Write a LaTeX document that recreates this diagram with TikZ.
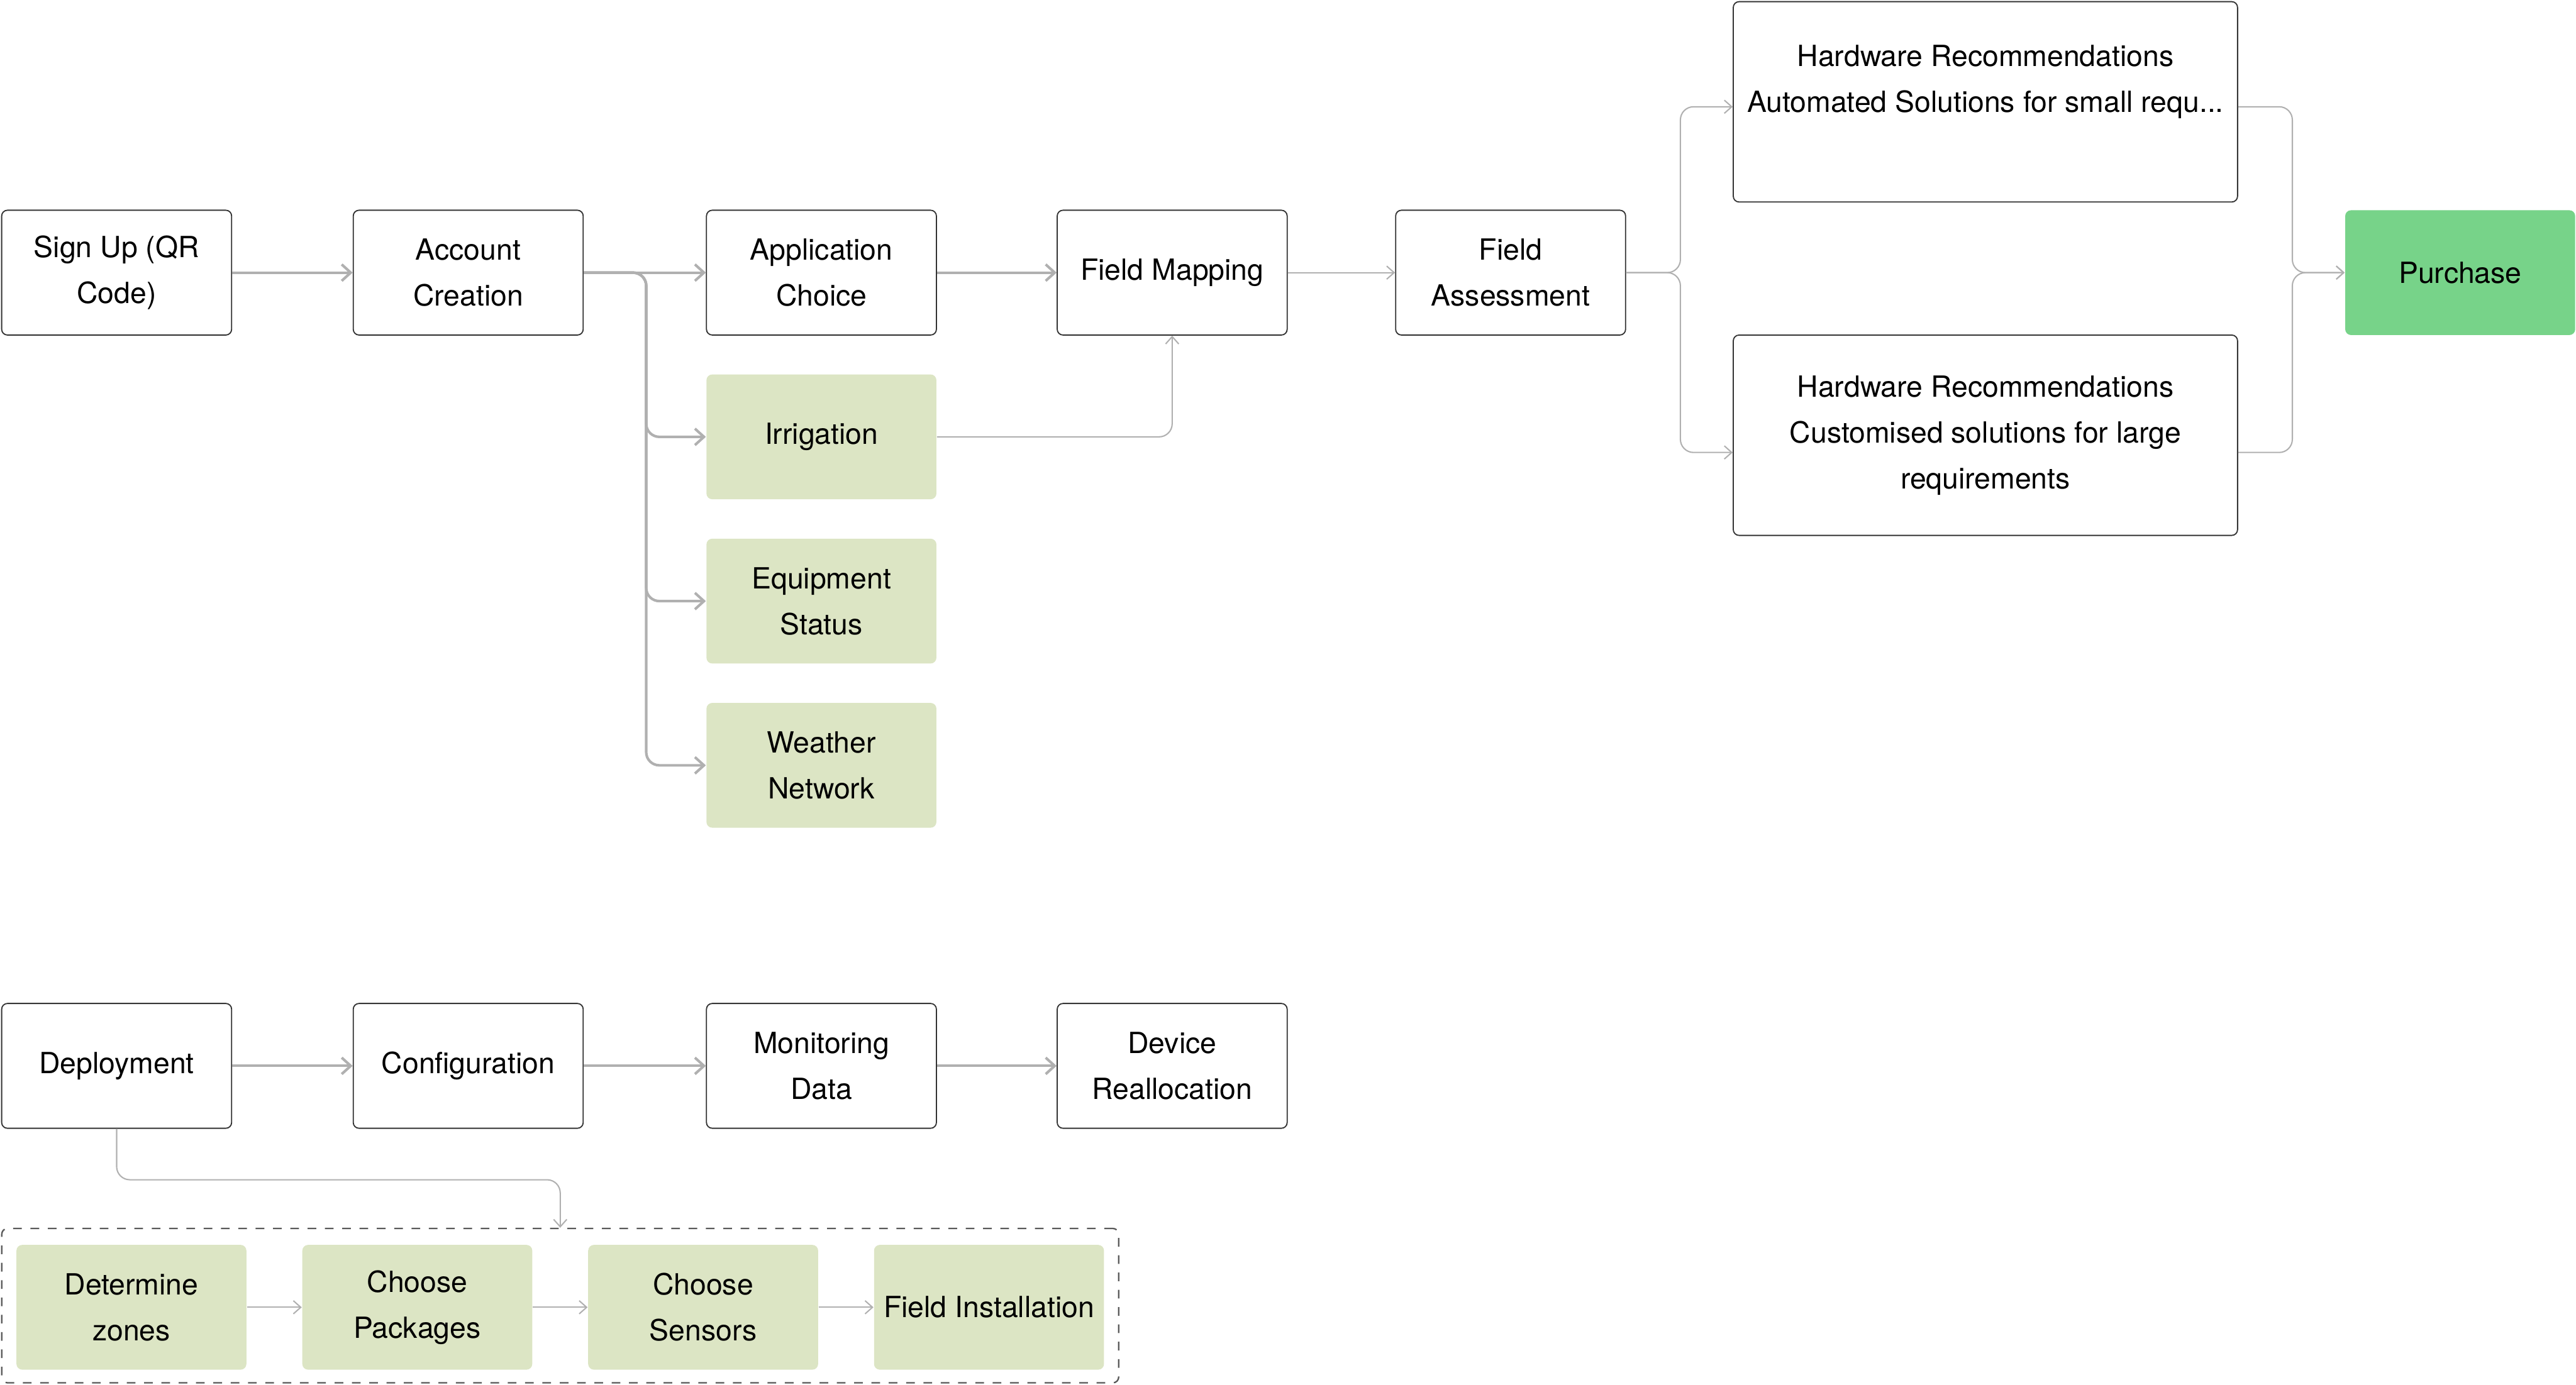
\documentclass[tikz,border=0pt]{standalone}
\usepackage{fontspec}
\setmainfont{TeX Gyre Heros}
\usetikzlibrary{arrows.meta}
\definecolor{leaf}{HTML}{DCE5C4}
\definecolor{buygreen}{HTML}{77D389}
\definecolor{wire}{HTML}{B0B0B0}

\begin{document}
\begin{tikzpicture}[x=0.02cm, y=-0.02cm, font=\fontsize{10.1pt}{15.9pt}\selectfont,
  box/.style={draw=black!80, line width=0.4pt, rounded corners=2pt, minimum width=2.8cm, minimum height=1.52cm, align=center, inner sep=2pt},
  wide/.style={box, minimum width=6.14cm, minimum height=2.44cm},
  leafbox/.style={box, draw=none, fill=leaf},
  buy/.style={box, draw=none, fill=buygreen},
  n/.style={-{Straight Barb[length=0.11cm, width=0.2cm]}, draw=wire, line width=0.9pt, rounded corners=0.16cm},
  t/.style={-{Straight Barb[length=0.09cm, width=0.16cm]}, draw=wire, line width=0.45pt, rounded corners=0.16cm}]
                \useasboundingbox (0,0) rectangle (1568,843);
                % nodes
                \node[box]      (signup) at (71,166) {Sign Up (QR\\Code)};
                \node[box]      (account) at (285,166) {Account\\Creation};
                \node[box]      (appchoice) at (500,166) {Application\\Choice};
                \node[box]      (fieldmap) at (713.5,166) {Field Mapping};
                \node[box]      (assess) at (919.5,166) {Field\\Assessment};
                \node[wide]     (hwsmall) at (1208.5,62) {Hardware Recommendations\\Automated Solutions for small requ...\\\mbox{}};
                \node[wide]     (hwlarge) at (1208.5,265) {Hardware Recommendations\\Customised solutions for large\\requirements};
                \node[buy]      (purchase) at (1497.5,166) {Purchase};
                \node[leafbox]  (irrigation) at (500,266) {Irrigation};
                \node[leafbox]  (equipment) at (500,366) {Equipment\\Status};
                \node[leafbox]  (weather) at (500,466) {Weather\\Network};
                \node[box]      (deploy) at (71,649) {Deployment};
                \node[box]      (config) at (285,649) {Configuration};
                \node[box]      (monitor) at (500,649) {Monitoring\\Data};
                \node[box]      (realloc) at (713.5,649) {Device\\Reallocation};
                \node[draw=black!65, dashed, line width=0.5pt, rounded corners=2pt, minimum width=13.6cm, minimum height=1.88cm] (setup) at (341,795) {};
                \node[leafbox]  (zones) at (80,796) {Determine\\zones};
                \node[leafbox]  (packages) at (254,796) {Choose\\Packages};
                \node[leafbox]  (sensors) at (428,796) {Choose\\Sensors};
                \node[leafbox]  (install) at (602,796) {Field Installation};
                % edges
                \draw [n] (signup) -- (account);
                \draw [n] (account) -- (appchoice);
                \draw [n] (account.east) -- ++(38,0) |- (irrigation.west);
                \draw [n] (account.east) -- ++(38,0) |- (equipment.west);
                \draw [n] (account.east) -- ++(38,0) |- (weather.west);
                \draw [n] (appchoice) -- (fieldmap);
                \draw [t] (irrigation.east) -| (fieldmap.south);
                \draw [t] (fieldmap) -- (assess);
                \draw [t] (assess.east) -- ++(33,0) |- ([yshift=-0.06cm]hwsmall.west);
                \draw [t] (assess.east) -- ++(33,0) |- ([yshift=-0.21cm]hwlarge.west);
                \draw [t] ([yshift=-0.06cm]hwsmall.east) -- ++(33,0) |- (purchase.west);
                \draw [t] ([yshift=-0.21cm]hwlarge.east) -- ++(33,0) |- (purchase.west);
                \draw [n] (deploy) -- (config);
                \draw [n] (config) -- (monitor);
                \draw [n] (monitor) -- (realloc);
                \draw [t] (deploy.south) -- ++(0,31) -| (setup.north);
                \draw [t] (zones) -- (packages);
                \draw [t] (packages) -- (sensors);
                \draw [t] (sensors) -- (install);
            \end{tikzpicture}
\end{document}
